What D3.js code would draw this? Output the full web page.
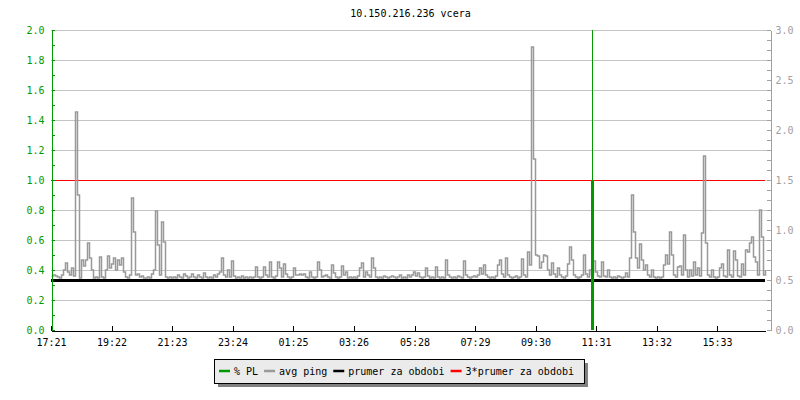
<!DOCTYPE html>
<meta charset="utf-8">
<style>
body { margin: 0; background: #fff; }
svg { display: block; font-family: "DejaVu Sans Mono", monospace; font-size: 10px; }
.grid line { stroke: #c4c4c4; shape-rendering: crispEdges; }
.left-axis path, .left-axis line { stroke: #009a00; shape-rendering: crispEdges; }
.left-axis text { fill: #009a00; }
.right-axis path, .right-axis line { stroke: #a0a0a0; shape-rendering: crispEdges; }
.right-axis text { fill: #a0a0a0; }
.x-axis path, .x-axis line { stroke: #000; shape-rendering: crispEdges; }
.x-axis text { fill: #000; }
.legend text { fill: #000; }
</style>
<svg width="800" height="400"></svg>
<script src="https://cdn.jsdelivr.net/npm/d3@7"></script>
<script>

var title = "10.150.216.236 vcera";

// time axis: samples every 4 minutes starting 17:21
var startLabel = "17:21",
    stepMinutes = 4;
var xTickLabels = ["17:21", "19:22", "21:23", "23:24", "01:25", "03:26",
                   "05:28", "07:29", "09:30", "11:31", "13:32", "15:33"];

var leftTicks = [0.0, 0.2, 0.4, 0.6, 0.8, 1.0, 1.2, 1.4, 1.6, 1.8, 2.0];
var rightTicks = [0.0, 0.5, 1.0, 1.5, 2.0, 2.5, 3.0];

// avg ping (right axis units)
var pingValues = [
  0.54,0.55,0.54,0.53,0.52,0.55,0.60,0.67,0.58,0.55,0.62,0.54,2.18,1.35,0.52,0.70,0.64,0.70,0.87,0.72,0.60,0.52,0.53,0.52,0.73,0.53,0.52,0.60,0.74,0.62,
  0.66,0.72,0.60,0.70,0.65,0.72,0.58,0.53,0.52,0.55,1.32,0.98,0.55,0.56,0.53,0.54,0.52,0.52,0.53,0.52,0.56,0.60,1.19,0.85,0.55,1.08,0.88,0.53,0.52,0.53,
  0.52,0.53,0.52,0.55,0.53,0.52,0.56,0.54,0.52,0.53,0.56,0.53,0.52,0.55,0.53,0.52,0.57,0.53,0.52,0.53,0.52,0.55,0.53,0.56,0.58,0.72,0.55,0.53,0.60,0.53,
  0.69,0.54,0.52,0.53,0.52,0.54,0.52,0.53,0.52,0.53,0.52,0.53,0.63,0.53,0.52,0.53,0.63,0.55,0.53,0.68,0.53,0.52,0.54,0.68,0.62,0.53,0.66,0.56,0.53,0.52,
  0.53,0.62,0.55,0.55,0.56,0.55,0.56,0.53,0.52,0.58,0.53,0.52,0.53,0.68,0.60,0.53,0.54,0.55,0.53,0.52,0.65,0.57,0.53,0.52,0.53,0.64,0.55,0.58,0.52,0.53,
  0.52,0.53,0.52,0.54,0.62,0.67,0.53,0.58,0.55,0.53,0.72,0.62,0.53,0.52,0.53,0.52,0.54,0.53,0.52,0.53,0.54,0.53,0.52,0.53,0.55,0.52,0.53,0.52,0.55,0.53,
  0.55,0.58,0.54,0.57,0.53,0.52,0.53,0.62,0.54,0.52,0.53,0.52,0.63,0.53,0.52,0.53,0.52,0.70,0.55,0.53,0.52,0.53,0.52,0.54,0.53,0.52,0.69,0.55,0.53,0.52,
  0.53,0.54,0.53,0.55,0.62,0.56,0.65,0.55,0.53,0.52,0.53,0.52,0.54,0.65,0.70,0.56,0.53,0.72,0.55,0.53,0.52,0.53,0.54,0.52,0.53,0.71,0.55,0.53,0.78,0.65,
  2.83,1.71,0.75,0.74,0.62,0.68,0.75,0.74,0.60,0.55,0.67,0.56,0.53,0.62,0.55,0.53,0.52,0.54,0.66,0.83,0.70,0.55,0.53,0.52,0.53,0.55,0.75,0.56,0.53,0.60,
  0.55,0.69,0.58,0.54,0.53,0.68,0.54,0.53,0.60,0.53,0.52,0.53,0.52,0.54,0.53,0.52,0.53,0.57,0.53,0.72,1.35,0.98,0.72,0.62,0.86,0.70,0.60,0.65,0.55,0.53,
  0.60,0.53,0.52,0.53,0.52,0.53,0.65,0.75,0.66,0.98,0.75,0.55,0.53,0.63,0.64,0.55,0.95,0.60,0.53,0.60,0.54,0.68,0.55,0.62,0.54,0.97,1.74,0.87,0.55,0.53,
  0.60,0.53,0.52,0.53,0.62,0.66,0.54,0.53,0.80,0.55,0.53,0.79,0.70,0.54,0.53,0.66,0.55,0.80,0.78,0.87,0.93,0.73,0.68,0.55,1.20,0.93,0.55,0.60
];

var prumer = 0.5;          // period average (right axis units)

// packet loss (left axis units)
var plTimes = ["11:23"];
var plValues = [1.0];
var plRuleTimes = ["11:23"];

var legendLabels = ["% PL", "avg ping", "prumer za obdobi", "3*prumer za obdobi"];
var legendColors = ["#009a00", "#999999", "#000000", "#ff0000"];

var svg = d3.select("svg"),
    plotLeft = 51,
    plotRight = 765,
    axisRightX = 770,
    plotTop = 30,
    plotBottom = 330;

var t0 = d3.timeParse("%H:%M")(startLabel);
function toDate(label) {
  var d = d3.timeParse("%H:%M")(label);
  if (d < t0) d = d3.timeDay.offset(d, 1);
  return d;
}
function sampleTime(i) { return d3.timeMinute.offset(t0, i * stepMinutes); }

var tLast = sampleTime(pingValues.length - 1);

var x = d3.scaleTime()
    .domain([t0, tLast])
    .range([plotLeft, plotRight]);

var yL = d3.scaleLinear().domain([0, 2]).range([plotBottom, plotTop]);
var yR = d3.scaleLinear().domain([0, 3]).range([plotBottom, plotTop]);

// title
svg.append("text")
    .attr("x", (plotLeft + axisRightX) / 2)
    .attr("y", 17)
    .attr("text-anchor", "middle")
    .text(title);

// grid
svg.append("g")
    .attr("class", "grid")
  .selectAll("line")
    .data(leftTicks.filter(function(d) { return d > 0; }))
  .enter().append("line")
    .attr("x1", plotLeft)
    .attr("x2", axisRightX)
    .attr("y1", function(d) { return yL(d); })
    .attr("y2", function(d) { return yL(d); });

// 3*prumer
svg.append("line")
    .attr("x1", x(t0)).attr("x2", x(tLast))
    .attr("y1", yR(3 * prumer)).attr("y2", yR(3 * prumer))
    .attr("stroke", legendColors[3])
    .attr("shape-rendering", "crispEdges");

// avg ping
var pingLine = d3.line()
    .x(function(d, i) { return x(sampleTime(i)); })
    .y(function(d) { return yR(d); })
    .curve(d3.curveStepAfter);

svg.append("path")
    .datum(pingValues)
    .attr("transform", "translate(0.5,0)")
    .attr("d", pingLine)
    .attr("fill", "none")
    .attr("stroke", legendColors[1])
    .attr("stroke-width", 1.5);

// prumer
svg.append("line")
    .attr("x1", x(t0)).attr("x2", x(tLast))
    .attr("y1", yR(prumer) + 0.5).attr("y2", yR(prumer) + 0.5)
    .attr("stroke", legendColors[2])
    .attr("stroke-width", 3);

// % PL
svg.append("g")
  .selectAll("line")
    .data(plRuleTimes)
  .enter().append("line")
    .attr("x1", function(d) { return Math.round(x(toDate(d))) + 0.5; })
    .attr("x2", function(d) { return Math.round(x(toDate(d))) + 0.5; })
    .attr("y1", plotTop)
    .attr("y2", plotBottom)
    .attr("stroke", legendColors[0]);

svg.append("g")
  .selectAll("line")
    .data(plValues)
  .enter().append("line")
    .attr("x1", function(d, i) { return Math.round(x(toDate(plTimes[i]))) + 0.5; })
    .attr("x2", function(d, i) { return Math.round(x(toDate(plTimes[i]))) + 0.5; })
    .attr("y1", yL(0))
    .attr("y2", function(d) { return yL(d); })
    .attr("stroke", legendColors[0])
    .attr("stroke-width", 3);

// axes
var leftMinor = d3.range(0, 20.5, 1).map(function(d) { return d / 10; });
var rightMinor = d3.range(0, 30.5, 1).map(function(d) { return d / 10; });

function labelIf(list) {
  return function(d) {
    return list.some(function(t) { return Math.abs(t - d) < 1e-6; }) ? d3.format(".1f")(d) : "";
  };
}

svg.append("g")
    .attr("class", "left-axis")
    .attr("transform", "translate(" + (plotLeft + 0.5) + ",0)")
    .call(d3.axisLeft(yL)
      .tickValues(leftMinor)
      .tickSize(-3)
      .tickSizeOuter(0)
      .tickPadding(7)
      .tickFormat(labelIf(leftTicks)));

svg.append("g")
    .attr("class", "right-axis")
    .attr("transform", "translate(" + (axisRightX + 0.5) + ",0)")
    .call(d3.axisRight(yR)
      .tickValues(rightMinor)
      .tickSize(-4)
      .tickSizeOuter(0)
      .tickPadding(5)
      .tickFormat(labelIf(rightTicks)));

svg.append("g")
    .attr("class", "x-axis")
    .attr("transform", "translate(0," + (plotBottom + 0.5) + ")")
    .call(d3.axisBottom(x)
      .tickValues(xTickLabels.map(toDate))
      .tickSize(-5)
      .tickSizeOuter(0)
      .tickPadding(8)
      .tickFormat(d3.timeFormat("%H:%M")));

svg.selectAll(".left-axis, .right-axis, .x-axis")
    .attr("font-family", null)
    .attr("font-size", null);

// legend
var legend = svg.append("g").attr("class", "legend");
var shadow = legend.append("rect").attr("fill", "#808080");
var box = legend.append("rect").attr("fill", "#ebebeb").attr("stroke", "#000");

var cx = 5;
legendLabels.forEach(function(label, i) {
  legend.append("line")
      .attr("x1", cx).attr("x2", cx + 11)
      .attr("y1", 12).attr("y2", 12)
      .attr("stroke", legendColors[i])
      .attr("stroke-width", 2.5);
  var t = legend.append("text")
      .attr("x", cx + 15)
      .attr("y", 12)
      .attr("dy", "0.35em")
      .text(label);
  cx += 15 + t.node().getComputedTextLength() + 6;
});

var boxW = cx + 4, boxH = 24;
box.attr("x", 0.5).attr("y", 0.5).attr("width", boxW).attr("height", boxH);
shadow.attr("x", 4).attr("y", 4).attr("width", boxW).attr("height", boxH);
legend.attr("transform", "translate(" + Math.round(399 - boxW / 2) + ",359)");

</script>
